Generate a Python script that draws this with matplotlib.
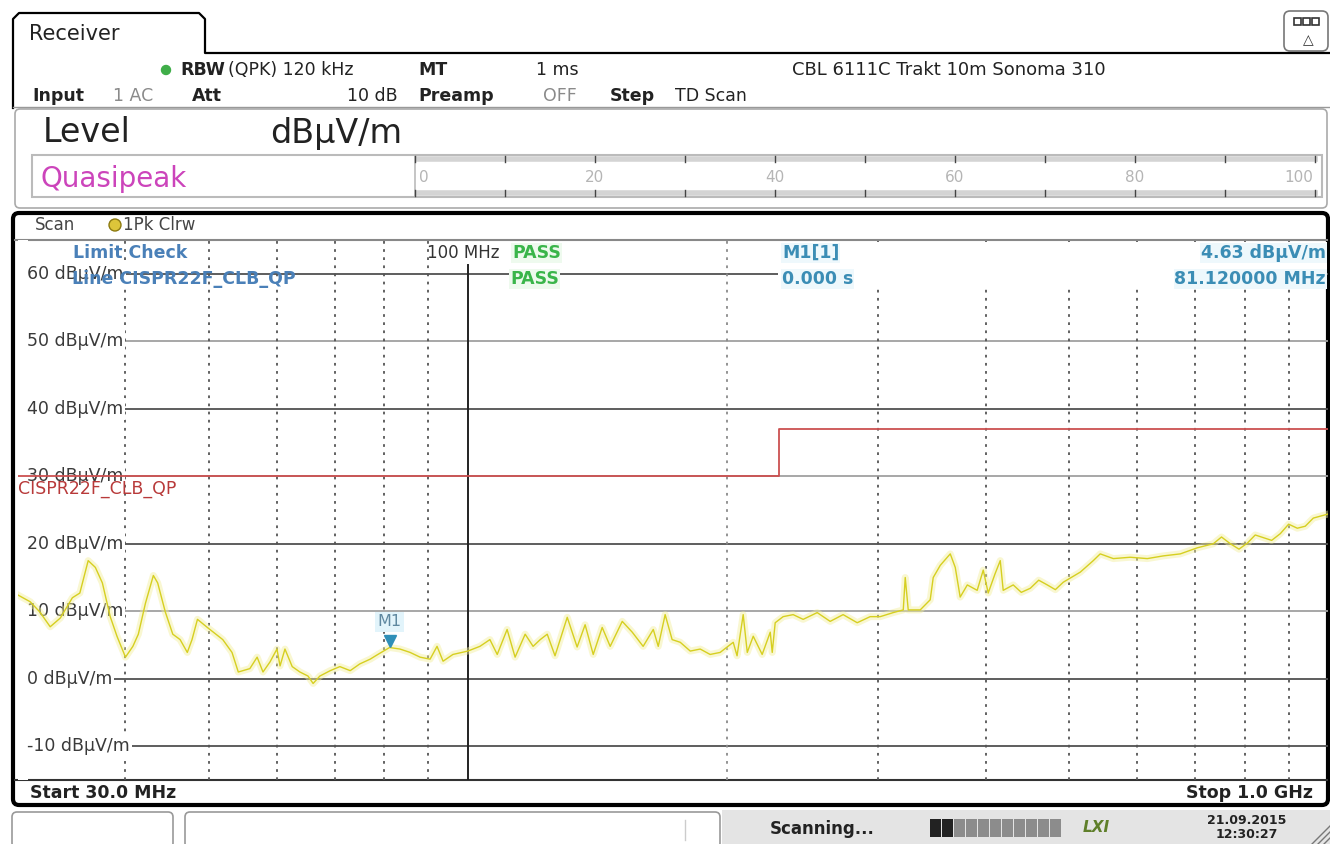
import matplotlib
matplotlib.use('Agg')
import matplotlib.pyplot as plt
from matplotlib.patches import FancyBboxPatch, Rectangle, Circle
from matplotlib import transforms

# Scan trace (frequency in MHz, level in dBuV/m)
trace_freq = [30.0, 31.0, 31.8, 32.7, 33.6, 34.7, 35.4, 36.2, 36.9, 37.6, 38.4, 39.1,
              40.0, 40.8, 41.4, 42.2, 43.1, 43.6, 44.5, 45.4, 46.3, 47.2, 47.8, 48.5,
              49.8, 50.6, 51.9, 53.2, 54.1, 55.8, 56.9, 57.8, 58.9, 60.0, 60.5, 61.3,
              62.5, 63.8, 65.2, 66.1, 67.3, 69.2, 71.0, 73.0, 74.9, 77.0, 78.6, 81.12,
              83.4, 85.7, 88.0, 90.4, 92.1, 93.6, 96.1, 100.0, 103.3, 106.1, 108.2,
              111.1, 113.5, 116.6, 119.1, 121.4, 123.7, 126.3, 130.5, 134.0, 136.9,
              139.9, 143.3, 146.4, 151.2, 155.3, 159.9, 164.3, 166.5, 169.6, 172.8,
              176.6, 181.4, 186.3, 191.3, 196.5, 203.5, 205.6, 209.0, 211.3, 214.7,
              219.9, 224.7, 225.9, 227.7, 232.6, 238.9, 245.4, 254.8, 263.8, 273.1,
              283.6, 293.6, 301.6, 312.3, 320.8, 322.5, 325.1, 335.7, 344.8, 347.6,
              354.2, 363.8, 368.7, 373.6, 380.8, 391.0, 397.4, 402.7, 410.3, 415.9,
              419.2, 430.6, 440.0, 450.7, 461.0, 471.7, 482.0, 492.3, 503.0, 515.3,
              533.5, 543.5, 562.9, 589.0, 616.5, 643.4, 673.5, 704.8, 735.7, 752.0,
              770.0, 788.0, 805.9, 823.0, 841.2, 860.0, 880.2, 900.0, 921.1, 941.0,
              961.4, 1000.0]
trace_level = [12.4, 11.4, 9.9, 7.7, 9.0, 12.0, 12.7, 17.5, 16.5, 14.2, 9.2, 6.3,
               3.2, 4.8, 6.6, 11.2, 15.3, 14.2, 9.9, 6.6, 5.8, 3.9, 5.8, 8.8,
               7.6, 6.9, 5.8, 3.9, 1.0, 1.5, 3.2, 1.0, 2.5, 4.4, 1.9, 4.4,
               1.8, 1.0, 0.4, -0.7, 0.4, 1.2, 1.8, 1.2, 2.2, 2.9, 3.6, 4.63,
               4.4, 3.9, 3.2, 2.9, 4.8, 2.6, 3.6, 4.1, 4.8, 5.8, 3.6,
               7.3, 3.2, 6.6, 4.8, 5.8, 6.6, 3.4, 9.1, 4.7, 8.0,
               3.6, 7.6, 4.8, 8.5, 6.9, 4.8, 7.3, 4.8, 9.5, 5.8,
               5.4, 4.1, 4.4, 3.6, 3.9, 5.4, 3.4, 9.5, 3.9, 6.3,
               3.6, 6.9, 3.9, 8.3, 9.2, 9.5, 8.8, 9.8, 8.5, 9.5,
               8.3, 9.2, 9.2, 9.8, 10.2, 15.0, 10.2, 10.2, 11.7, 15.0,
               16.8, 18.5, 16.5, 12.1, 13.9, 13.1, 16.1, 12.7, 15.6, 17.5,
               13.1, 13.9, 12.8, 13.4, 14.6, 13.9, 13.2, 14.3, 15.0, 15.8,
               17.5, 18.5, 17.8, 18.0, 17.8, 18.2, 18.5, 19.4, 20.0, 21.0,
               20.0, 19.2, 20.1, 21.3, 20.9, 20.5, 21.5, 22.9, 22.3, 22.6,
               23.8, 24.4]

# CISPR22 class B quasi-peak limit line
limit_freq = [30, 230, 230, 1000]
limit_level = [30, 30, 37, 37]

grid_levels = [60, 50, 40, 30, 20, 10, 0, -10]
grid_freqs = [40, 50, 60, 70, 80, 90, 200, 300, 400, 500, 600, 700, 800, 900]

m1_freq = 81.12
m1_level = 4.63

qp_scale = [0, 10, 20, 30, 40, 50, 60, 70, 80, 90, 100]

W, H = 1330, 844
fig = plt.figure(figsize=(W / 100, H / 100), dpi=100)
fig.patch.set_facecolor('white')

# chrome drawn in pixel coordinates (y pointing down)
bg = fig.add_axes([0, 0, 1, 1], zorder=0)
bg.set_xlim(0, W)
bg.set_ylim(H, 0)
bg.axis('off')

ov = fig.add_axes([0, 0, 1, 1], zorder=2)
ov.set_xlim(0, W)
ov.set_ylim(H, 0)
ov.axis('off')

ax = fig.add_axes([18 / W, (H - 780) / H, 1310 / W, 540 / H], zorder=1)
ax.set_xscale('log')
ax.set_xlim(30, 1000)
ax.set_ylim(-15, 65)
ax.axis('off')

FONT = 'DejaVu Sans'


def txt(a, x, y, s, size=12.5, color='#222222', weight='normal', ha='left', **kw):
    a.text(x, y, s, fontsize=size, color=color, fontweight=weight, ha=ha,
           va='center', family=FONT, **kw)


# --- receiver tab and header ---
bg.plot([13, 13, 19, 199, 205, 205, W], [108, 19, 13, 13, 19, 53, 53],
        color='black', lw=1.6, solid_joinstyle='round')
txt(bg, 29, 34, 'Receiver', size=15)

bg.add_patch(FancyBboxPatch((1284, 11), 44, 40, boxstyle='round,pad=0,rounding_size=6',
                            fc='white', ec='#777777', lw=1.2))
for i in range(3):
    bg.add_patch(Rectangle((1294 + i * 9, 18), 7, 7, fc='white', ec='#333333', lw=1.2))
txt(bg, 1308, 40, '△', size=10, ha='center', color='#333333')

bg.add_patch(Circle((166, 70), 4.5, color='#3fae49'))
txt(bg, 180, 70, 'RBW', weight='bold')
txt(bg, 228, 70, '(QPK) 120 kHz')
txt(bg, 418, 70, 'MT', weight='bold')
txt(bg, 536, 70, '1 ms')
txt(bg, 792, 70, 'CBL 6111C Trakt 10m Sonoma 310', size=13)

txt(bg, 32, 96, 'Input', weight='bold')
txt(bg, 113, 96, '1 AC', color='#8a8a8a')
txt(bg, 192, 96, 'Att', weight='bold')
txt(bg, 398, 96, '10 dB', ha='right')
txt(bg, 418, 96, 'Preamp', weight='bold')
txt(bg, 543, 96, 'OFF', color='#8a8a8a')
txt(bg, 610, 96, 'Step', weight='bold')
txt(bg, 675, 96, 'TD Scan')

bg.plot([13, W], [107, 107], color='#999999', lw=1)

# --- level panel ---
bg.add_patch(FancyBboxPatch((15, 109), 1312, 99, boxstyle='round,pad=0,rounding_size=5',
                            fc='white', ec='#aaaaaa', lw=1.2))
txt(bg, 43, 133, 'Level', size=24)
txt(bg, 270, 133, 'dBµV/m', size=24)

bg.add_patch(Rectangle((32, 155), 1290, 42, fc='white', ec='#bbbbbb', lw=1.5))
txt(bg, 40, 179, 'Quasipeak', size=20, color='#cc44bb')
bg.plot([415, 415], [155, 197], color='#bbbbbb', lw=1.2)
for yb in (159, 193):
    bg.plot([415, 1318], [yb, yb], color='#d4d4d4', lw=4, solid_capstyle='butt')
for v in qp_scale:
    xs = 415 + 9 * v
    bg.plot([xs, xs], [156, 162], color='#444444', lw=1)
    bg.plot([xs, xs], [190, 196], color='#444444', lw=1)
    if v % 20 == 0:
        if v == 0:
            txt(bg, xs + 4, 177, str(v), size=11, color='#b5b5b5')
        elif v == 100:
            txt(bg, xs - 2, 177, str(v), size=11, color='#b5b5b5', ha='right')
        else:
            txt(bg, xs, 177, str(v), size=11, color='#b5b5b5', ha='center')

# --- diagram panel ---
bg.add_patch(FancyBboxPatch((13, 213), 1315, 592, boxstyle='round,pad=0,rounding_size=6',
                            fc='white', ec='black', lw=3))
txt(bg, 35, 225, 'Scan', size=12, color='#444444')
bg.add_patch(Circle((115, 225), 6, fc='#dcc53a', ec='#8c7a10', lw=1))
txt(bg, 123, 225, '1Pk Clrw', size=12, color='#444444')
bg.plot([15, 1327], [240, 240], color='#888888', lw=1.5)
bg.plot([15, 1327], [780, 780], color='#333333', lw=1.5)
txt(bg, 30, 793, 'Start 30.0 MHz', weight='bold')
txt(bg, 1313, 793, 'Stop 1.0 GHz', weight='bold', ha='right')

# --- status bar ---
bg.add_patch(FancyBboxPatch((12, 812), 161, 36, boxstyle='round,pad=0,rounding_size=5',
                            fc='white', ec='#999999', lw=1.2))
bg.add_patch(FancyBboxPatch((185, 812), 535, 36, boxstyle='round,pad=0,rounding_size=5',
                            fc='white', ec='#999999', lw=1.2))
bg.plot([685, 685], [820, 840], color='#cccccc', lw=1)
bg.add_patch(Rectangle((722, 810), 608, 34, fc='#e4e4e4', ec='none'))
txt(bg, 770, 829, 'Scanning...', size=12, weight='bold')
for i in range(11):
    bg.add_patch(Rectangle((930 + i * 12, 819), 10.5, 18,
                           fc='#222222' if i < 2 else '#8c8c8c', ec='none'))
txt(bg, 1096, 828, 'LXI', size=11, weight='bold', color='#5f7f2a', ha='center',
    style='italic')
txt(bg, 1247, 821, '21.09.2015', size=9, weight='bold', ha='center')
txt(bg, 1247, 835, '12:30:27', size=9, weight='bold', ha='center')
for k in range(3):
    bg.plot([1312 + k * 6, W], [H, 826 + k * 6], color='#777777', lw=1)

# --- grid ---
light_levels = [50, 10, 30]
for lv in grid_levels:
    ax.axhline(lv, color='#a0a0a0' if lv in light_levels else '#505050', lw=1.3, zorder=1)
for f in grid_freqs:
    ax.axvline(f, color='#8a8a8a' if f == 200 else '#555555', lw=1.3,
               ls=(0, (1.5, 3)), zorder=1)
ax.axvline(100, ymax=0.954, color='#222222', lw=1.4, zorder=1)
# keep the level lines clear of the left margin
ax.add_patch(Rectangle((0, 0), 10 / 1310, 1, transform=ax.transAxes,
                       fc='white', ec='none', zorder=1.5))

for lv in grid_levels:
    ax.text(9 / 1310, lv, f'{lv} dBµV/m', transform=ax.get_yaxis_transform(),
            fontsize=12.5, color='#3a3a3a', va='center', ha='left', family=FONT, zorder=2,
            bbox=dict(fc='white', ec='none', pad=1.5))

# --- limit line and trace ---
ax.plot(limit_freq, limit_level, color='#cc5050', lw=1.3, zorder=3)
ax.text(0, 28.1, 'CISPR22F_CLB_QP', transform=ax.get_yaxis_transform(),
        fontsize=12.5, color='#b83a3a', va='center', ha='left', family=FONT, zorder=3)

ax.plot(trace_freq, trace_level, color='#f2ee9a', lw=5, alpha=0.45,
        solid_joinstyle='round', zorder=4)
ax.plot(trace_freq, trace_level, color='#d6cf20', lw=1.0, zorder=5)

# marker M1
tip = transforms.offset_copy(ax.transData, fig=fig, y=4.5, units='points')
lab = transforms.offset_copy(ax.transData, fig=fig, y=13, units='points')
ax.text(m1_freq, m1_level, 'M1', transform=lab, fontsize=11.5, color='#5f88a0',
        ha='center', va='bottom', family=FONT, zorder=6,
        bbox=dict(fc='#e2f4fb', ec='none', pad=1.5))
ax.plot([m1_freq], [m1_level], marker='v', ms=9, color='#2f8fb8', transform=tip, zorder=7)

# --- limit check and marker info ---
ov.add_patch(Rectangle((778, 242), 549, 47, fc='white', ec='none'))
blue = '#4a80b8'
txt(ov, 73, 253, 'Limit Check', color=blue, weight='bold')
txt(ov, 72, 279, 'Line CISPR22F_CLB_QP', color=blue, weight='bold')
txt(ov, 427, 253, '100 MHz', size=12, color='#333333')
green = '#3ab54a'
txt(ov, 512, 253, 'PASS', color=green, weight='bold',
    bbox=dict(fc='#eefaee', ec='none', pad=0.5))
txt(ov, 510, 279, 'PASS', color=green, weight='bold',
    bbox=dict(fc='#eefaee', ec='none', pad=0.5))
mblue = '#3b8db5'
mbox = dict(fc='#eef8fc', ec='none', pad=0.5)
txt(ov, 782, 253, 'M1[1]', color=mblue, weight='bold', bbox=mbox)
txt(ov, 782, 279, '0.000 s', color=mblue, weight='bold', bbox=mbox)
txt(ov, 1326, 253, f'{m1_level:.2f} dBµV/m', color=mblue, weight='bold', ha='right', bbox=mbox)
txt(ov, 1326, 279, f'{m1_freq:.6f} MHz', color=mblue, weight='bold', ha='right', bbox=mbox)

fig.savefig('out.png', dpi=100, facecolor='white')
